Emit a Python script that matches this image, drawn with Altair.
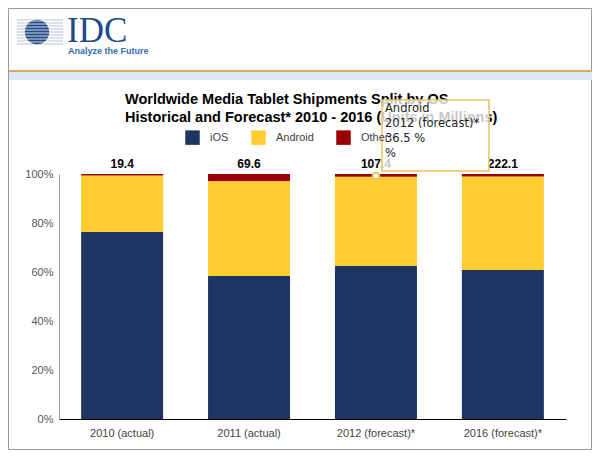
import altair as alt
import pandas as pd

categories = ["2010 (actual)", "2011 (actual)", "2012 (forecast)*", "2016 (forecast)*"]
series = ["iOS", "Android", "Other"]
ios = [76.3, 58.4, 62.4, 60.8]
android = [23.1, 38.7, 36.5, 38.2]
other = [0.6, 2.9, 1.1, 1.0]
totals = ["19.4", "69.6", "107.4", "222.1"]
colors = ["#1e3463", "#fdcd32", "#990000"]
y_ticks = [0, 20, 40, 60, 80, 100]
title_lines = [
    "Worldwide Media Tablet Shipments Split by OS",
    "Historical and Forecast* 2010 - 2016 (Units in Millions)",
]
tooltip_lines = ["Android", "2012 (forecast)*", "36.5 %", "%"]
logo_name = "IDC"
logo_tagline = "Analyze the Future"

rows = []
for i, c in enumerate(categories):
    for k, (s, vals) in enumerate(zip(series, [ios, android, other])):
        rows.append({"category": c, "os": s, "value": vals[i], "rank": k})
df = pd.DataFrame(rows)
tot_df = pd.DataFrame({"category": categories, "total": totals, "top": [100] * 4})
one = pd.DataFrame({"a": [0]})

OX, OY = 59, 174  # page coords of plot origin
W, H = 507, 245
FONT = "Liberation Sans"

xenc = alt.X(
    "category:N",
    sort=categories,
    scale=alt.Scale(paddingInner=0.353, paddingOuter=0.174),
    axis=alt.Axis(title=None, labelAngle=0, ticks=False, domainColor="#000000",
                  domainWidth=1, labelColor="#444444", labelFontSize=11,
                  labelFont=FONT, labelPadding=8, grid=False, zindex=1),
)

bars = alt.Chart(df).mark_bar(size=82).encode(
    x=xenc,
    y=alt.Y("value:Q", stack="zero", scale=alt.Scale(domain=[0, 100], nice=False),
            axis=alt.Axis(title=None, values=y_ticks, labelExpr="datum.value + '%'",
                          ticks=False, domainColor="#999999", grid=False,
                          labelColor="#555555", labelFontSize=11, labelFont=FONT,
                          labelPadding=6, zindex=1)),
    color=alt.Color("os:N", scale=alt.Scale(domain=series, range=colors),
                    legend=alt.Legend(orient="none", legendX=126, legendY=-44,
                                      direction="horizontal", title=None,
                                      symbolType="square", symbolSize=210,
                                      symbolStrokeWidth=0, labelFontSize=11,
                                      labelFont=FONT, labelColor="#444444",
                                      labelOffset=10, columnPadding=22, padding=0)),
    order=alt.Order("rank:Q"),
)

labels = alt.Chart(tot_df).mark_text(fontSize=12, fontWeight="bold", font=FONT,
                                     color="#000000", dy=-6, baseline="alphabetic").encode(
    x=alt.X("category:N", sort=categories),
    y=alt.Y("top:Q"),
    text="total:N",
)


def txt(t, px, py, size, color, font=FONT, weight="normal", align="left"):
    return alt.Chart(one).mark_text(text=t, align=align, baseline="alphabetic",
                                    fontSize=size, font=font, fontWeight=weight,
                                    color=color).encode(
        x=alt.value(px - OX), y=alt.value(py - OY))


def hrule(px1, px2, py, color, w):
    return alt.Chart(one).mark_rule(color=color, strokeWidth=w).encode(
        x=alt.value(px1 - OX), x2=alt.value(px2 - OX), y=alt.value(py - OY))


def rect(px1, py1, px2, py2, **kw):
    return alt.Chart(one).mark_rect(**kw).encode(
        x=alt.value(px1 - OX), x2=alt.value(px2 - OX),
        y=alt.value(py1 - OY), y2=alt.value(py2 - OY))


decor = []
# frame
decor.append(rect(8.5, 8.5, 591.5, 449.5, fill="#ffffff", fillOpacity=0,
                  stroke="#999999", strokeWidth=1))
# header band lines
decor.append(rect(9, 70, 592, 72, fill="#d8ac5a"))
decor.append(rect(9, 72, 592, 80, fill="#dae7f4"))
# globe logo
for yy in range(20, 46, 3):
    decor.append(hrule(17, 63, yy, "#b9c2d2", 1))
decor.append(alt.Chart(one).mark_point(shape="circle", filled=True, size=600,
                                       color="#234a86", opacity=1).encode(
    x=alt.value(37 - OX), y=alt.value(32 - OY)))
for yy in range(21, 45, 3):
    decor.append(hrule(24, 51, yy, "#ffffff", 0.8))
decor.append(txt(logo_name, 67, 42, 35, "#1e4b8a", font="Liberation Serif"))
decor.append(txt(logo_tagline, 68, 54, 9, "#2f6db4", weight="bold"))
# titles
decor.append(txt(title_lines[0], 125, 104, 14.5, "#000000", weight="bold"))
decor.append(txt(title_lines[1], 125, 122, 14.5, "#000000", weight="bold"))

tip = []
tip.append(rect(382, 100, 489, 171, fill="#ffffff", fillOpacity=0.78,
                stroke="#e6c463", strokeWidth=1.5))
for i, line in enumerate(tooltip_lines):
    tip.append(txt(line, 385, 112 + 15 * i, 11.5, "#222222", font="DejaVu Sans"))
tip.append(alt.Chart(one).mark_point(shape="circle", filled=True, size=45,
                                     fill="#ffffff", stroke="#e6c463",
                                     strokeWidth=2, opacity=1).encode(
    x=alt.value(376 - OX), y=alt.value(176 - OY)))

chart = alt.layer(*decor, bars, labels, *tip).properties(
    width=W, height=H,
    autosize=alt.AutoSizeParams(type="none"),
    padding={"left": OX - 8, "top": OY - 8, "right": 584 - (OX - 8) - W,
             "bottom": 442 - (OY - 8) - H},
    background="#ffffff",
).configure_view(stroke=None)

chart.save("out.html", embed_options={"renderer": "svg", "actions": False})
